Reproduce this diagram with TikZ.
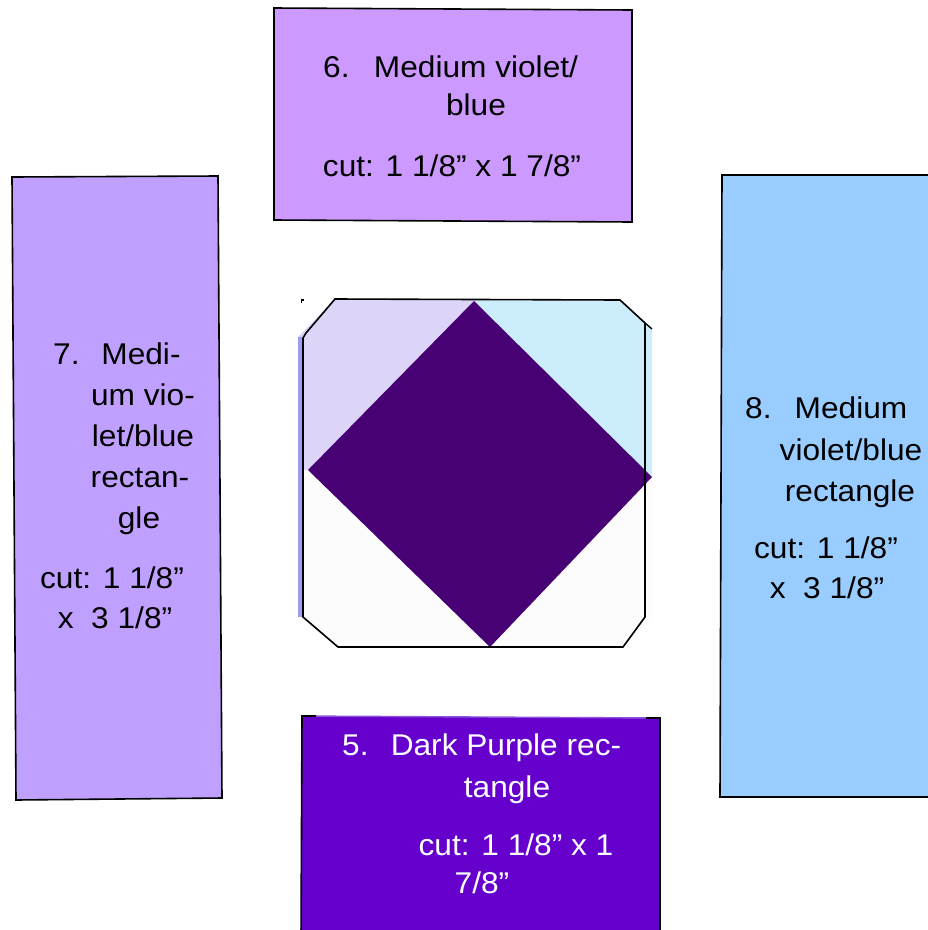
\documentclass[tikz,border=0pt]{standalone}
\usepackage{fontspec}
\setmainfont{Liberation Sans}[FakeStretch=1.055]
\definecolor{topfill}{HTML}{CC99FF}
\definecolor{leftfill}{HTML}{C0A0FF}
\definecolor{rightfill}{HTML}{99CCFF}
\definecolor{botfill}{HTML}{6600CC}
\definecolor{botedge}{HTML}{8A55DA}
\definecolor{diamondfill}{HTML}{480075}
\definecolor{lavender}{HTML}{DCD5F8}
\definecolor{paleblue}{HTML}{CCEDFC}
\definecolor{offwhite}{HTML}{FCFCFC}
\definecolor{stripblue}{HTML}{9C9CF5}
\tikzset{
  txt/.style={font=\fontsize{30}{36}\selectfont, inner sep=0pt, anchor=base},
  num/.style={txt, anchor=base west},
  wtxt/.style={txt, text=white},
  wnum/.style={num, text=white},
  edge/.style={draw=black, line width=1.6pt, line join=miter},
}
\begin{document}
\begin{tikzpicture}[x=1pt,y=-1pt]
\useasboundingbox (0,0) rectangle (928,930);
% ---- top box (6)
\filldraw[edge, fill=topfill] (274,8) -- (632,10) -- (632,222) -- (274,220) -- cycle;
\node[num] (n6) at (323,77) {6.};
\node[txt] (t6a) at (476,77) {Medium violet/};
\node[txt] (t6b) at (476,115) {blue};
\node[txt] (t6c) at (452,176) {cut: 1 1/8” x 1 7/8”};
% ---- left box (7)
\filldraw[edge, fill=leftfill] (12,177) -- (218,176) -- (222,798) -- (16,800) -- cycle;
\node[num] (n7) at (53,364) {7.};
\node[txt] (t7a) at (141,364) {Medi-};
\node[txt] (t7b) at (143,405) {um vio-};
\node[txt] (t7c) at (143,446) {let/blue};
\node[txt] (t7d) at (140,487) {rectan-};
\node[txt] (t7e) at (139,528) {gle};
\node[txt] (t7f) at (112,588) {cut: 1 1/8”};
\node[txt] (t7g) at (115,628) {x\ \ 3 1/8”};
% ---- right box (8)
\filldraw[edge, fill=rightfill] (940,175) -- (722,175) -- (720,797) -- (940,797);
\node[num] (n8) at (745,418) {8.};
\node[txt] (t8a) at (851,418) {Medium};
\node[txt] (t8b) at (851,460) {violet/blue};
\node[txt] (t8c) at (850,501) {rectangle};
\node[txt] (t8d) at (826,558) {cut: 1 1/8”};
\node[txt] (t8e) at (827,598) {x\ \ 3 1/8”};
% ---- bottom box (5)
\fill[botfill] (302,716) -- (660,718) -- (660,940) -- (302,940) -- cycle;
\draw[botedge, line width=1.4pt] (302,716) -- (660,718);
\draw[edge] (316,716) -- (302,716) -- (301,940);
\draw[edge] (646,718) -- (660,718) -- (660,940);
\node[wnum] (n5) at (342,755) {5.};
\node[wtxt] (t5a) at (506,755) {Dark Purple rec-};
\node[wtxt] (t5b) at (507,797) {tangle};
\node[wtxt] (t5c) at (516,855) {cut: 1 1/8” x 1};
\node[wtxt] (t5d) at (482,893) {7/8”};
% ---- centre block
\begin{scope}
  \clip (335,299) -- (620,299) -- (652,328) -- (652,620) -- (625,648) -- (338,648) -- (298,617) -- (298,337) -- cycle;
  \fill[offwhite] (296,297) rectangle (654,650);
  \fill[lavender] (296,297) rectangle (474,470);
  \fill[paleblue] (474,297) rectangle (654,478);
  \fill[stripblue] (297,337) rectangle (302,617);
\end{scope}
\fill[diamondfill] (474,301) -- (652,477) -- (490,647) -- (308,470) -- cycle;
\draw[edge] (335,299) -- (620,300) -- (645,323) -- (645,617) -- (623,647) -- (338,647) -- (303,617) -- (303,338) -- (306,333) -- cycle;
\draw[black, line width=1.4pt] (645,323) -- (652,329);
\draw[black, line width=1.2pt] (301,300) -- (304,300) (301.6,299.4) -- (301.6,303);
\end{tikzpicture}
\end{document}
